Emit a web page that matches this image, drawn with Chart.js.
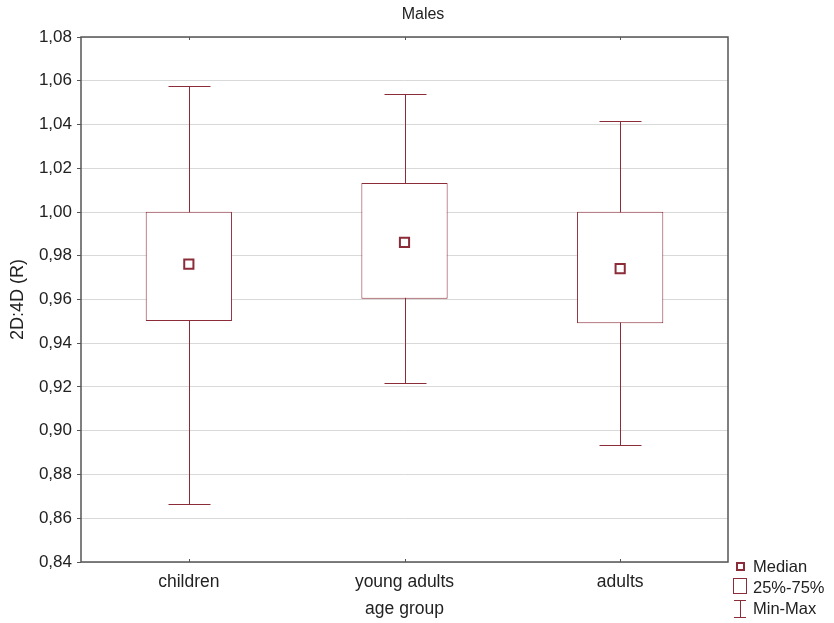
<!DOCTYPE html>
<html>
<head>
<meta charset="utf-8">
<script src="https://cdn.jsdelivr.net/npm/chart.js@4/dist/chart.umd.min.js"></script>
<style>
  html, body { margin: 0; padding: 0; background: #fff; }
  #wrap { width: 834px; height: 623px; }
</style>
</head>
<body>
<div id="wrap"><canvas id="chart"></canvas></div>
<script>
const groups = ['children', 'young adults', 'adults'];
const minVals = [0.8666, 0.9220, 0.8934];
const q1Vals = [0.9502, 0.9604, 0.9491];
const medianVals = [0.9762, 0.9861, 0.9741];
const q3Vals = [1.0001, 1.0133, 1.0001];
const maxVals = [1.0576, 1.0538, 1.0415];
const yTicks = [0.84, 0.86, 0.88, 0.90, 0.92, 0.94, 0.96, 0.98, 1.00, 1.02, 1.04, 1.06, 1.08];

const boxColor = '#8b2c38';
const fontFamily = 'Liberation Sans, Arial, sans-serif';

// whiskers and caps, drawn under the boxes
const whiskerPlugin = {
    id: 'whiskers',
    beforeDatasetsDraw(chart) {
        const ctx = chart.ctx;
        const x = chart.scales.x;
        const y = chart.scales.y;
        ctx.save();
        ctx.strokeStyle = boxColor;
        ctx.lineWidth = 1;
        groups.forEach((g, i) => {
            const cx = Math.round(x.getPixelForValue(i)) + 0.5;
            const top = Math.round(y.getPixelForValue(maxVals[i])) + 0.5;
            const bot = Math.round(y.getPixelForValue(minVals[i])) + 0.5;
            ctx.beginPath();
            ctx.moveTo(cx, top);
            ctx.lineTo(cx, bot);
            ctx.moveTo(cx - 21, top);
            ctx.lineTo(cx + 21, top);
            ctx.moveTo(cx - 21, bot);
            ctx.lineTo(cx + 21, bot);
            ctx.stroke();
        });
        ctx.restore();
    },
    afterDraw(chart) {
        const ctx = chart.ctx;
        const a = chart.chartArea;
        const x = chart.scales.x;
        ctx.save();
        // title, centred on the whole canvas
        ctx.fillStyle = '#222';
        ctx.font = '16px ' + fontFamily;
        ctx.textAlign = 'center';
        ctx.textBaseline = 'middle';
        ctx.fillText('Males', 423, 15);

        // frame
        ctx.strokeStyle = '#555';
        ctx.lineWidth = 1.5;
        ctx.strokeRect(a.left, a.top, a.right - a.left, a.bottom - a.top);
        // small ticks at category centers
        ctx.lineWidth = 1;
        groups.forEach((g, i) => {
            const cx = Math.round(x.getPixelForValue(i)) + 0.5;
            ctx.beginPath();
            ctx.moveTo(cx, a.top);
            ctx.lineTo(cx, a.top + 3);
            ctx.moveTo(cx, a.bottom);
            ctx.lineTo(cx, a.bottom - 3);
            ctx.stroke();
        });

        // legend
        ctx.strokeStyle = boxColor;
        ctx.lineWidth = 2;
        ctx.strokeRect(737, 563, 7, 7);
        ctx.lineWidth = 1;
        ctx.strokeRect(733.5, 578.5, 13, 15);
        ctx.beginPath();
        ctx.moveTo(734, 600.5); ctx.lineTo(746, 600.5);
        ctx.moveTo(740.5, 600.5); ctx.lineTo(740.5, 617.5);
        ctx.moveTo(734, 617.5); ctx.lineTo(746, 617.5);
        ctx.stroke();
        ctx.fillStyle = '#222';
        ctx.font = '16.5px ' + fontFamily;
        ctx.textAlign = 'left';
        ctx.fillText('Median', 753, 567);
        ctx.fillText('25%-75%', 753, 588);
        ctx.fillText('Min-Max', 753, 609);
        ctx.restore();
    }
};

new Chart(document.getElementById('chart'), {
    data: {
        labels: groups,
        datasets: [
            {
                type: 'line',
                label: 'Median',
                data: medianVals,
                showLine: false,
                pointStyle: 'rect',
                pointRadius: 6.5,
                pointHoverRadius: 6.5,
                pointBorderWidth: 2,
                pointBackgroundColor: '#fff',
                pointBorderColor: boxColor,
                order: 1
            },
            {
                type: 'bar',
                label: '25%-75%',
                data: groups.map((g, i) => [q1Vals[i], q3Vals[i]]),
                backgroundColor: '#fff',
                borderColor: boxColor,
                borderWidth: 1,
                borderSkipped: false,
                barPercentage: 0.4,
                categoryPercentage: 1,
                order: 2
            }
        ]
    },
    options: {
        responsive: true,
        maintainAspectRatio: false,
        animation: false,
        layout: { padding: { left: 4, right: 106, top: 37, bottom: 3.5 } },
        plugins: {
            legend: { display: false },
            tooltip: { enabled: false },
            title: { display: false }
        },
        scales: {
            x: {
                type: 'category',
                offset: true,
                afterFit(axis) { axis.height = 57.5; },
                grid: { display: false, drawTicks: false },
                border: { display: false },
                ticks: { color: '#222', font: { family: fontFamily, size: 17.5 }, padding: 9.5 },
                title: {
                    display: true,
                    text: 'age group',
                    color: '#222',
                    font: { family: fontFamily, size: 17.5 },
                    padding: { top: 6, bottom: 0 }
                }
            },
            y: {
                min: 0.84,
                max: 1.08,
                afterBuildTicks(axis) {
                    axis.ticks = yTicks.map(v => ({ value: v }));
                },
                afterFit(axis) { axis.width = 77; },
                grid: { color: '#d9d9d9', tickColor: '#555', tickLength: 4 },
                border: { display: false },
                ticks: {
                    color: '#222',
                    font: { family: fontFamily, size: 17 },
                    padding: 5,
                    callback: v => Number(v).toFixed(2).replace('.', ',')
                },
                title: {
                    display: true,
                    text: '2D:4D (R)',
                    color: '#222',
                    font: { family: fontFamily, size: 18 },
                    padding: { top: 3, bottom: 9 }
                }
            }
        }
    },
    plugins: [whiskerPlugin]
});
</script>
</body>
</html>
